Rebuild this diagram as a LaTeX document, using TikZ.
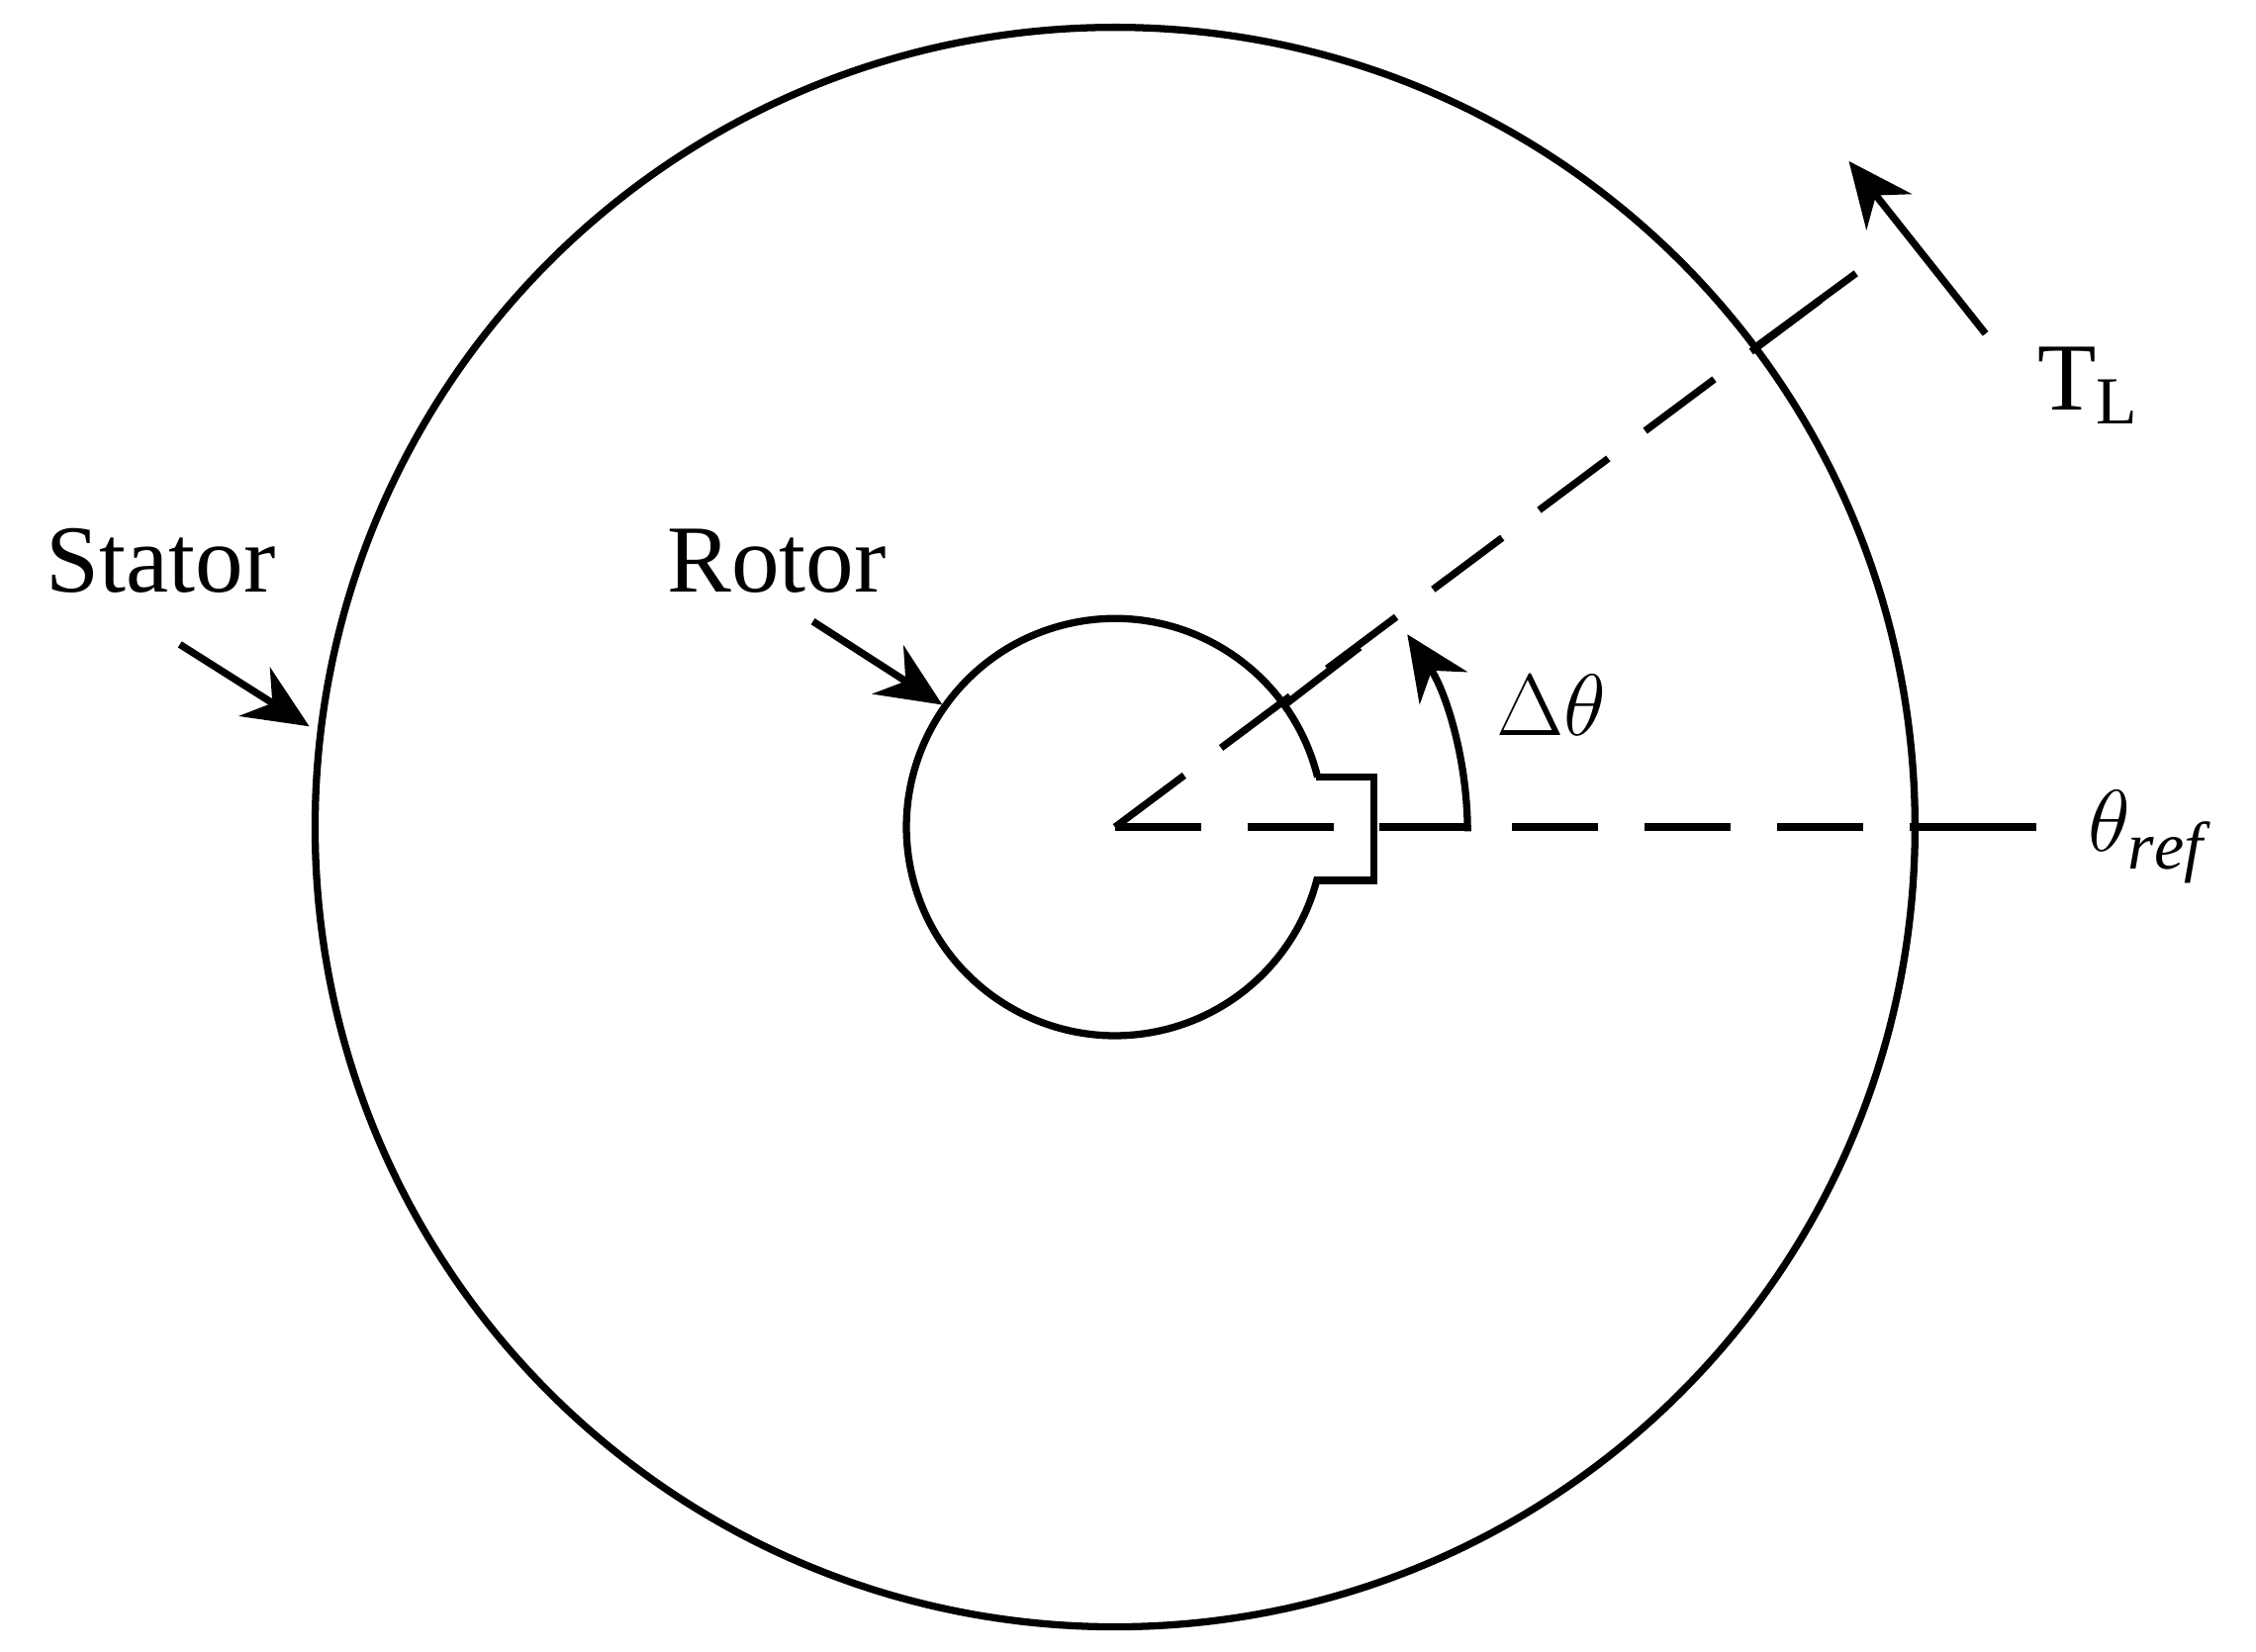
\documentclass[tikz,border=0pt]{standalone}
\usepackage{fontspec}
\setmainfont{Liberation Serif}
\usetikzlibrary{arrows.meta,calc}
\begin{document}
\begin{tikzpicture}[x=0.1mm,y=-0.1mm,
  ln/.style={line width=0.5mm},
  dsh/.style={ln,dash pattern=on 6mm off 3.2mm},
  arr/.style={ln,-{Stealth[length=4.5mm,width=4mm]}},
  lbl/.style={font=\fontsize{19}{22}\selectfont,inner sep=0}]
\useasboundingbox (0,0) rectangle (1568,1148);
\coordinate (c) at (775,575);
\draw[ln] (c) circle (556);
% rotor with notch
\draw[ln] (915,540) -- (955,540) -- (955,612) -- (915,612);
\draw[ln] ($(c)+(-13.9:145)$) arc (-13.9:-346.1:145);
% dashed lines
\coordinate (tip) at (1290,190);
\draw[dsh] (c) -- (tip);
\draw[ln] (1222,240) -- (tip);
\draw[ln] (893,490) -- (945,450);
\draw[dsh] (c) -- (1335,575);
\draw[ln] (1335,575) -- (1415,575);
% delta theta arc
\draw[arr] (1020,578) arc (0:-34:245);
% T_L
\draw[arr] (1380,232) -- (1285,112);
\node[lbl] (tl) at (1452,268) {T\textsubscript{L}};
% stator/rotor labels
\node[lbl] (st) at (112,390) {Stator};
\draw[arr] (125,448) -- (215,505);
\node[lbl] (ro) at (540,390) {Rotor};
\draw[arr] (565,432) -- (655,490);
\node[lbl] (dt) at (1078,490) {$\Delta\theta$};
\node[lbl] (tr) at (1492,582) {$\theta_{\mathit{ref}}$};
\end{tikzpicture}
\end{document}
